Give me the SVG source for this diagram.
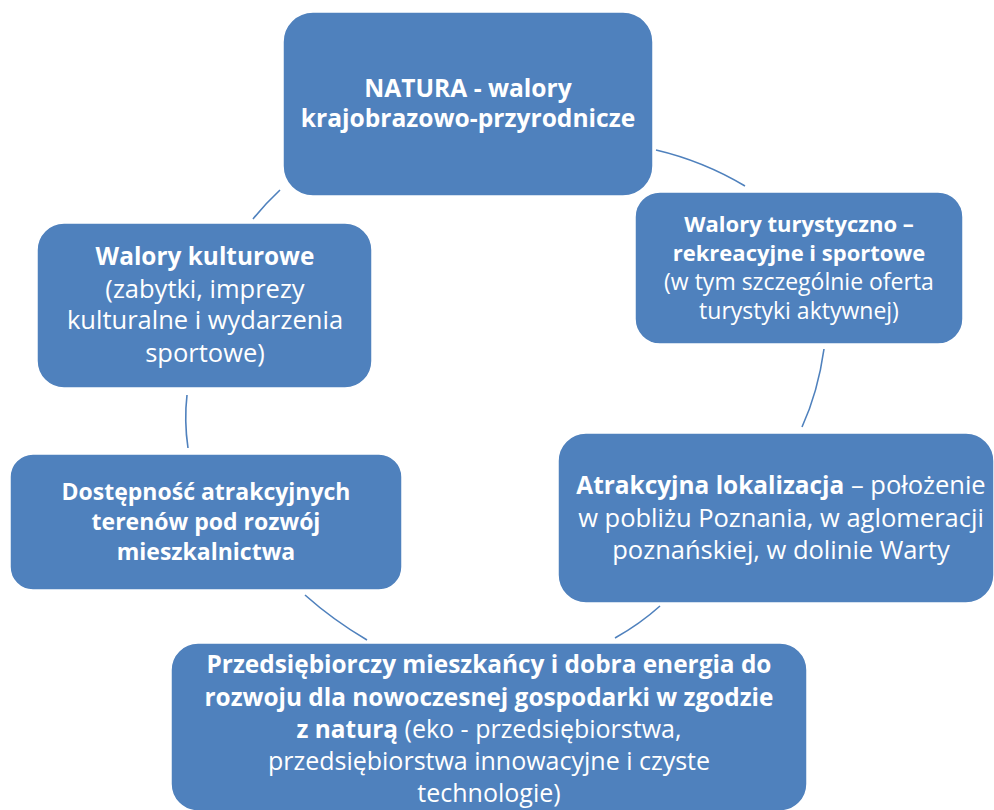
<svg xmlns="http://www.w3.org/2000/svg" width="994" height="810" viewBox="0 0 994 810">
<style>
.box{fill:#4F81BD;stroke:#ffffff;stroke-width:1.5}
.conn{fill:none;stroke:#4F81BD;stroke-width:1.6}
text{font-family:"Open Sans","Noto Sans","Liberation Sans",sans-serif;fill:#ffffff;text-anchor:middle}
.b{font-weight:bold}
.r{font-size:25.5px}
.bb{font-size:24.4px}
</style>
<rect width="994" height="810" fill="#ffffff"/>
<g id="connectors">
<path class="conn" d="M656,150 Q703,161 745,186"/>
<path class="conn" d="M824,349 Q818,392 802,427"/>
<path class="conn" d="M660,606 Q640,624 615,638"/>
<path class="conn" d="M367,640 Q333,620 305,595"/>
<path class="conn" d="M188,448 Q184,421 187,395"/>
<path class="conn" d="M253,219 Q265,204 280,190"/>
</g>
<g id="node-natura">
<rect class="box" x="283" y="12" width="370" height="184" rx="30"/>
<text class="b" style="font-size:24.6px"><tspan x="468" y="97">NATURA - walory</tspan><tspan x="468" y="127">krajobrazowo-przyrodnicze</tspan></text>
</g>
<g id="node-turystyczne">
<rect class="box" x="635" y="192" width="328" height="152" rx="25"/>
<text style="font-size:23px"><tspan class="b" style="font-size:22px" x="799" y="232">Walory turystyczno –</tspan><tspan class="b" style="font-size:22px" x="799" y="261">rekreacyjne i sportowe</tspan><tspan x="799" y="290">(w tym szczególnie oferta</tspan><tspan x="799" y="319">turystyki aktywnej)</tspan></text>
</g>
<g id="node-lokalizacja">
<rect class="box" x="558" y="433" width="436" height="170" rx="28"/>
<text class="r"><tspan x="781" y="494"><tspan class="b" style="font-size:24.4px">Atrakcyjna lokalizacja</tspan> – położenie</tspan><tspan x="781" y="527">w pobliżu Poznania, w aglomeracji</tspan><tspan x="781" y="559">poznańskiej, w dolinie Warty</tspan></text>
</g>
<g id="node-przedsiebiorczy">
<rect class="box" x="171" y="643" width="636" height="168" rx="27"/>
<text style="font-size:25px"><tspan class="b bb" x="489" y="673">Przedsiębiorczy mieszkańcy i dobra energia do</tspan><tspan class="b bb" x="489" y="706">rozwoju dla nowoczesnej gospodarki w zgodzie</tspan><tspan x="489" y="738"><tspan class="b bb">z naturą</tspan> (eko - przedsiębiorstwa,</tspan><tspan x="489" y="770">przedsiębiorstwa innowacyjne i czyste</tspan><tspan x="489" y="802">technologie)</tspan></text>
</g>
<g id="node-mieszkalnictwo">
<rect class="box" x="10" y="454" width="392" height="136" rx="23"/>
<text class="b" style="font-size:23px"><tspan x="206" y="500">Dostępność atrakcyjnych</tspan><tspan x="206" y="530">terenów pod rozwój</tspan><tspan x="206" y="560">mieszkalnictwa</tspan></text>
</g>
<g id="node-kulturowe">
<rect class="box" x="37" y="223" width="335" height="165" rx="27"/>
<text class="r"><tspan class="b bb" x="205" y="265">Walory kulturowe</tspan><tspan x="205" y="298">(zabytki, imprezy</tspan><tspan x="205" y="329">kulturalne i wydarzenia</tspan><tspan x="205" y="362">sportowe)</tspan></text>
</g>
</svg>
